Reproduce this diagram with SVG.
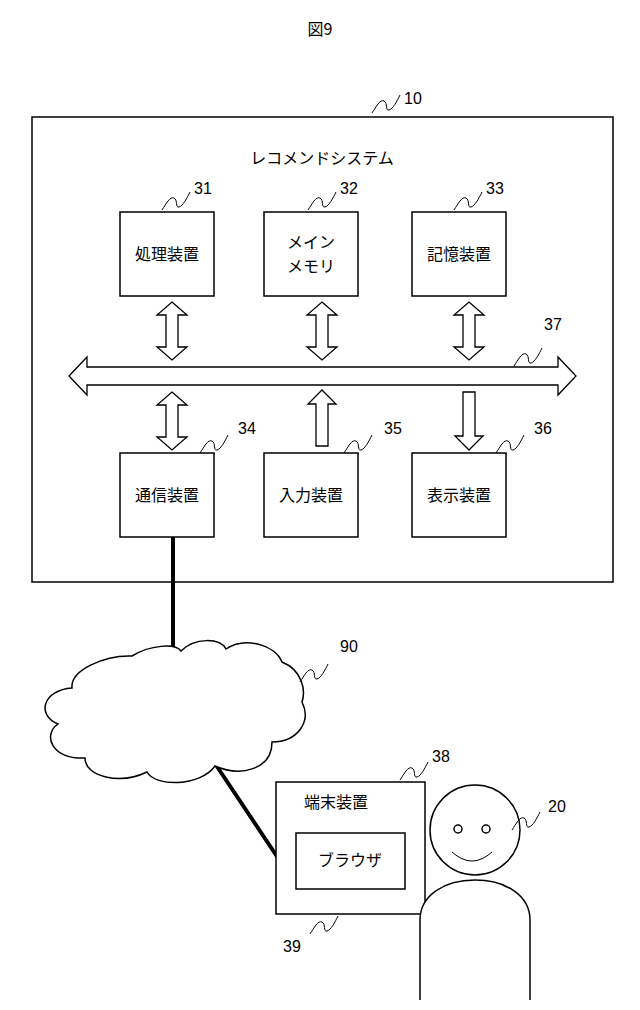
<svg xmlns="http://www.w3.org/2000/svg" width="640" height="1010" viewBox="0 0 640 1010">
<style>
.b{fill:#fff;stroke:#000;stroke-width:1.5}
.t{font-family:"Noto Sans CJK JP","Liberation Sans",sans-serif;font-size:16px;fill:#000}
.n{font-family:"Liberation Sans",sans-serif;font-size:16px;fill:#000}
.l{fill:none;stroke:#000;stroke-width:1}
.a{fill:#fff;stroke:#000;stroke-width:1.3}
</style>
<defs>
<path id="sq" class="l" d="M0,0 C4,-6 8,-14 12,-12 C16,-10 13,-2 17,-3 C21,-4 25,-12 28,-18"/>
<path id="ud" class="a" d="M0,0 L15,13 L6,13 L6,45 L15,45 L0,58 L-15,45 L-6,45 L-6,13 L-15,13 Z"/>
</defs>
<text class="t" x="320" y="35" text-anchor="middle">図9</text>
<g id="system">
<rect class="b" x="32" y="117" width="581" height="465"/>
<text class="t" x="322" y="164" text-anchor="middle">レコメンドシステム</text>
<use href="#sq" x="372" y="113"/><text class="n" x="404" y="104">10</text>
</g>
<g id="n31"><rect class="b" x="120" y="212" width="94" height="84"/><text class="t" x="167" y="260" text-anchor="middle">処理装置</text><use href="#sq" x="162" y="210"/><text class="n" x="194" y="194">31</text></g>
<g id="n32"><rect class="b" x="264" y="212" width="94" height="84"/><text class="t" x="311" y="248" text-anchor="middle">メイン</text><text class="t" x="311" y="272" text-anchor="middle">メモリ</text><use href="#sq" x="308" y="210"/><text class="n" x="340" y="194">32</text></g>
<g id="n33"><rect class="b" x="412" y="212" width="94" height="84"/><text class="t" x="459" y="260" text-anchor="middle">記憶装置</text><use href="#sq" x="454" y="210"/><text class="n" x="486" y="194">33</text></g>
<g id="n34"><rect class="b" x="120" y="453" width="94" height="84"/><text class="t" x="167" y="501" text-anchor="middle">通信装置</text><use href="#sq" x="200" y="453"/><text class="n" x="238" y="434">34</text></g>
<g id="n35"><rect class="b" x="264" y="453" width="94" height="84"/><text class="t" x="311" y="501" text-anchor="middle">入力装置</text><use href="#sq" x="344" y="453"/><text class="n" x="384" y="434">35</text></g>
<g id="n36"><rect class="b" x="412" y="453" width="94" height="84"/><text class="t" x="459" y="501" text-anchor="middle">表示装置</text><use href="#sq" x="496" y="453"/><text class="n" x="534" y="434">36</text></g>
<g id="bus">
<path class="a" d="M69,376 L87,357 L87,367 L558,367 L558,357 L576,376 L558,395 L558,385 L87,385 L87,395 Z"/>
<use href="#sq" x="514" y="366"/><text class="n" x="544" y="330">37</text>
</g>
<g id="connectors">
<use href="#ud" x="172" y="302"/>
<use href="#ud" x="322" y="302"/>
<use href="#ud" x="469" y="302"/>
<use href="#ud" x="172" y="392"/>
<path class="a" d="M322,390 L336,404 L328,404 L328,446 L316,446 L316,404 L308,404 Z"/>
<path class="a" d="M469,450 L483,436 L475,436 L475,392 L463,392 L463,436 L455,436 Z"/>
<line x1="173" y1="537" x2="173" y2="647" stroke="#000" stroke-width="4"/>
<line x1="216" y1="765" x2="278" y2="858" stroke="#000" stroke-width="4"/>
</g>
<g id="n90">
<path class="b" stroke-width="2.5" d="M132,656 C150,645 175,643 181,651 C195,637 220,638 226,649 C245,636 275,645 282,662 C302,670 306,690 302,702 C312,722 297,742 272,742 C272,770 240,777 215,766 C200,787 155,787 147,772 C120,785 85,777 85,758 C52,760 42,735 58,724 C36,715 43,690 72,688 C70,670 105,655 132,656 Z"/>
<use href="#sq" x="300" y="682"/><text class="n" x="340" y="652">90</text>
</g>
<g id="n38">
<rect class="b" x="276" y="782" width="149" height="132"/>
<text class="t" x="336" y="808" text-anchor="middle">端末装置</text>
<use href="#sq" x="400" y="780"/><text class="n" x="432" y="762">38</text>
</g>
<g id="n39">
<rect class="b" x="296" y="833" width="109" height="56"/>
<text class="t" x="350" y="866" text-anchor="middle">ブラウザ</text>
<use href="#sq" x="310" y="934"/><text class="n" x="283" y="952">39</text>
</g>
<g id="n20">
<circle class="b" cx="475" cy="830" r="45"/>
<circle class="b" cx="458" cy="829" r="4" stroke-width="1.2"/>
<circle class="b" cx="486" cy="829" r="4" stroke-width="1.2"/>
<path class="l" stroke-width="1.5" d="M452,852 Q472,870 492,852"/>
<path class="b" d="M420,1000 L420,920 C420,895 445,880 475,880 C505,880 530,895 530,920 L530,1000"/>
<use href="#sq" x="512" y="830"/><text class="n" x="548" y="812">20</text>
</g>
</svg>
